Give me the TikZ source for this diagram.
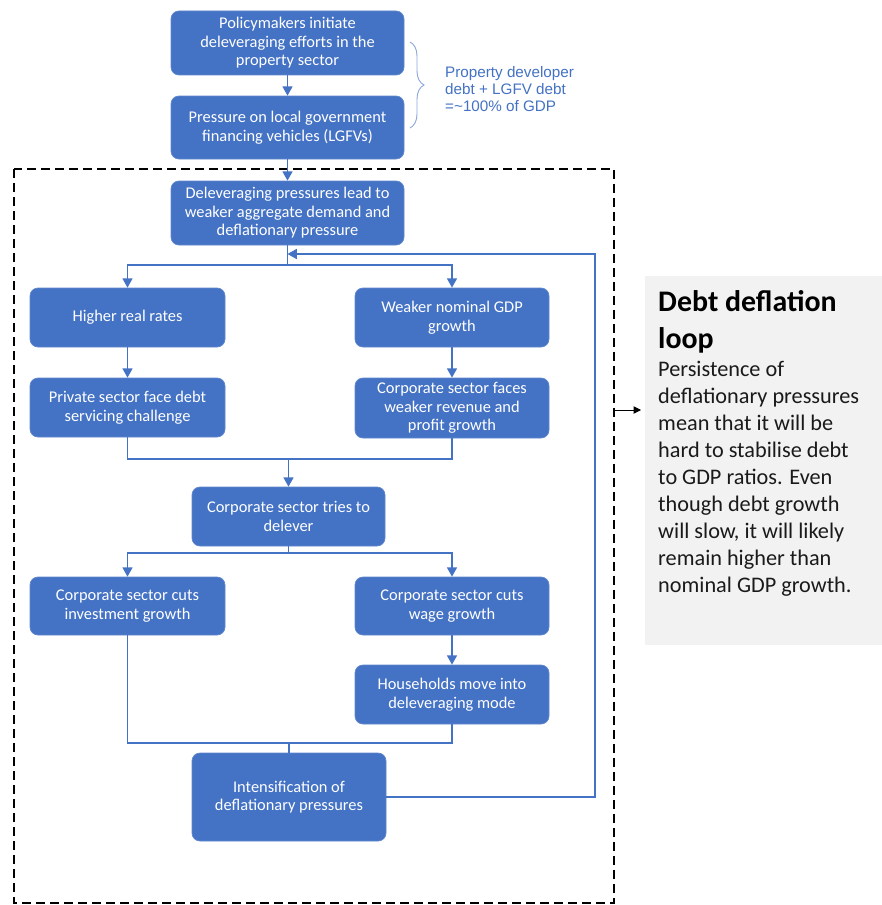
\documentclass[tikz,border=0pt]{standalone}
\usepackage{fontspec}
\setmainfont{Carlito}
\newfontfamily\arialf{Liberation Sans}
\usetikzlibrary{arrows.meta,decorations.pathreplacing}
\definecolor{boxblue}{HTML}{4472C4}
\definecolor{lineblue}{HTML}{4472C4}
\definecolor{bracegrey}{HTML}{8EA9DB}
\definecolor{panelgrey}{HTML}{F2F2F2}
\definecolor{textdark}{HTML}{1A1A1A}
\tikzset{
  flowbox/.style={draw=boxblue!85!white, line width=0.6pt, fill=boxblue, rounded corners=2.4mm,
    text=white, align=center, inner sep=0pt,
    font=\fontsize{14}{15.8}\selectfont},
  conn/.style={draw=lineblue, line width=1.4pt},
  arr/.style={conn, -{Triangle[length=2.8mm,width=3mm]}},
}
\begin{document}
\begin{tikzpicture}[x=0.3mm,y=-0.3mm]
\useasboundingbox (0,0) rectangle (882,905);
\fill[white] (0,0) rectangle (882,905);

% grey panel
\node[fill=panelgrey, minimum width=237*0.3mm, minimum height=369*0.3mm, inner sep=0pt, anchor=north west] (rb) at (645,276) {};
\node[anchor=north west, inner sep=0pt, align=left, text=black, font=\fontsize{25.5}{31.6}\selectfont\bfseries] (ttl) at (658,290) {Debt deflation\\loop};
\node[anchor=north west, inner sep=0pt, align=left, text=textdark, font=\fontsize{19}{23}\selectfont] (body) at (658,361)
{Persistence of\\deflationary pressures\\mean that it will be\\hard to stabilise debt\\to GDP ratios. Even\\though debt growth\\will slow, it will likely\\remain higher than\\nominal GDP growth.};

% dashed loop frame
\draw[black, line width=2.5pt, dash pattern=on 2.8mm off 1.4mm] (14,169) rectangle (614,903);

% boxes
\node[flowbox, minimum width=233*0.3mm, minimum height=64*0.3mm] (n1) at (287.5,43) {Policymakers initiate\\deleveraging efforts in the\\property sector};
\node[flowbox, minimum width=233*0.3mm, minimum height=63*0.3mm] (n2) at (287.5,127.5) {Pressure on local government\\financing vehicles (LGFVs)};
\node[flowbox, minimum width=233*0.3mm, minimum height=64*0.3mm] (n3) at (287.5,213) {Deleveraging pressures lead to\\weaker aggregate demand and\\deflationary pressure};
\node[flowbox, minimum width=195*0.3mm, minimum height=59*0.3mm] (n4) at (127.5,317.5) {Higher real rates};
\node[flowbox, minimum width=194*0.3mm, minimum height=59*0.3mm] (n5) at (452,317.5) {Weaker nominal GDP\\growth};
\node[flowbox, minimum width=195*0.3mm, minimum height=59*0.3mm] (n6) at (127.5,407.5) {Private sector face debt\\servicing challenge};
\node[flowbox, minimum width=194*0.3mm, minimum height=60*0.3mm] (n7) at (452,408) {Corporate sector faces\\weaker revenue and\\profit growth};
\node[flowbox, minimum width=193*0.3mm, minimum height=59*0.3mm] (n8) at (288.5,516.5) {Corporate sector tries to\\delever};
\node[flowbox, minimum width=195*0.3mm, minimum height=58*0.3mm] (n9) at (127.5,606) {Corporate sector cuts\\investment growth};
\node[flowbox, minimum width=194*0.3mm, minimum height=58*0.3mm] (n10) at (452,606) {Corporate sector cuts\\wage growth};
\node[flowbox, minimum width=194*0.3mm, minimum height=59*0.3mm] (n11) at (452,694.5) {Households move into\\deleveraging mode};
\node[flowbox, minimum width=194*0.3mm, minimum height=88*0.3mm] (n12) at (289,797) {Intensification of\\deflationary pressures};

% brace and note
\draw[bracegrey, line width=0.8pt, decorate, decoration={brace, amplitude=4.2mm}] (410,42) -- (410,128);
\node[anchor=west, inner sep=0pt, align=left, text=boxblue, font=\arialf\fontsize{13}{14.6}\selectfont] (note) at (445,89) {Property developer\\debt + LGFV debt\\=\textasciitilde100\% of GDP};

% connectors
\coordinate (s1) at (287.5,265);
\coordinate (m1) at (288.5,459);
\coordinate (s2) at (288.5,553);
\coordinate (m2) at (289,743);
\coordinate (lr) at (595,254);
\coordinate (lt) at (287.5,254);
\coordinate (ab) at (614,410);
\coordinate (ae) at (641,410);

\draw[arr] (n1) -- (n2);
\draw[arr] (n2) -- (n3);
\draw[conn] (n3.south) -- (s1);
\draw[arr] (s1) -| (n4.north);
\draw[arr] (s1) -| (n5.north);
\draw[arr] (n4) -- (n6);
\draw[arr] (n5) -- (n7);
\draw[conn] (n6.south) |- (m1);
\draw[conn] (n7.south) |- (m1);
\draw[arr] (m1) -- (n8.north);
\draw[conn] (n8.south) -- (s2);
\draw[arr] (s2) -| (n9.north);
\draw[arr] (s2) -| (n10.north);
\draw[arr] (n10) -- (n11);
\draw[conn] (n9.south) |- (m2);
\draw[conn] (n11.south) |- (m2);
\draw[conn] (m2) -- (n12.north);
\draw[arr] (n12.east) -| (lr) -- (lt);
\draw[black, line width=0.8pt, -{Triangle[length=2.2mm,width=2.2mm]}] (ab) -- (ae);
\end{tikzpicture}
\end{document}
